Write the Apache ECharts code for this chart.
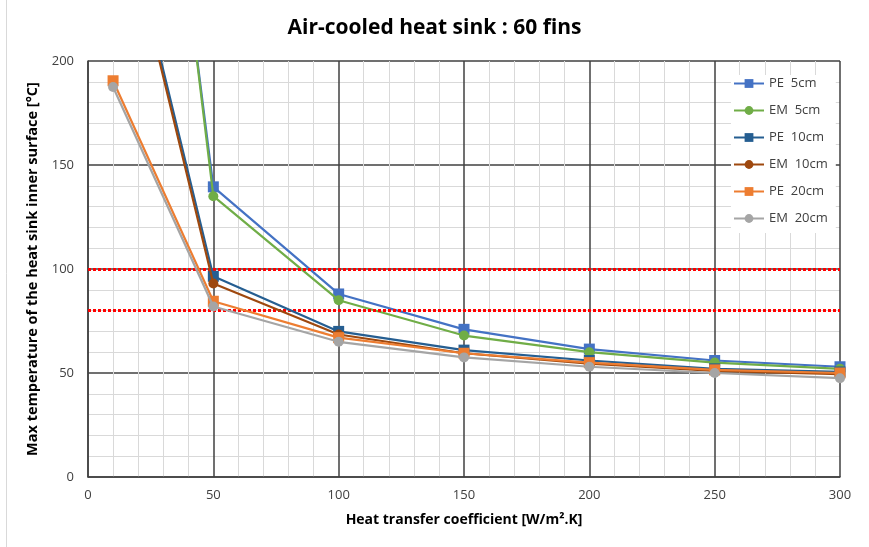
<!DOCTYPE html>
<html>
<head>
<meta charset="utf-8">
<title>Air-cooled heat sink : 60 fins</title>
<script src="https://cdn.jsdelivr.net/npm/echarts@6/dist/echarts.min.js"></script>
<style>
  html, body { margin: 0; padding: 0; background: #fff; }
  #main { width: 869px; height: 547px; }
</style>
</head>
<body>
<div id="main"></div>
<script>
// heat transfer coefficient [W/m2.K]
var hValues = [10, 50, 100, 150, 200, 250, 300];

// max temperature [°C] per case
var pe5 = [520, 139.5, 88, 71, 61.5, 56, 53];
var em5 = [535, 135, 85, 68, 60, 55, 52];
var pe10 = [295, 96.5, 70, 61, 56, 52, 50.5];
var em10 = [292, 93, 68.5, 59.5, 54.5, 51, 49.5];
var pe20 = [190.5, 84.5, 67, 59.5, 55, 51.5, 50];
var em20 = [187.5, 82, 65, 57.5, 53, 50, 47.5];

// temperature limits (red dotted)
var limits = [100, 80];

var seriesNames = ['PE  5cm', 'EM  5cm', 'PE  10cm', 'EM  10cm', 'PE  20cm', 'EM  20cm'];
var seriesData = [pe5, em5, pe10, em10, pe20, em20];
var colors = ['#4472C4', '#70AD47', '#255E91', '#9E480E', '#ED7D31', '#A5A5A5'];

function pairs(arr) {
    return hValues.map(function (h, i) { return [h, arr[i]]; });
}

var font = 'Open Sans';

var series = seriesNames.map(function (name, i) {
    return {
        name: name,
        type: 'line',
        data: pairs(seriesData[i]),
        symbol: i % 2 === 0 ? 'rect' : 'circle',
        symbolSize: i % 2 === 0 ? 11 : 10,
        showAllSymbol: true,
        lineStyle: { width: 2.2, color: colors[i] },
        itemStyle: { color: colors[i] },
        z: 3 + i
    };
});

// limit lines drawn on the first series
series[0].markLine = {
    silent: true,
    symbol: ['none', 'none'],
    label: { show: false },
    lineStyle: { color: '#FF0000', type: [3, 2], width: 3 },
    data: limits.map(function (v) { return { yAxis: v }; })
};

var chart = echarts.init(document.getElementById('main'));
chart.setOption({
    backgroundColor: '#fff',
    animation: false,
    color: colors,
    title: {
        text: 'Air-cooled heat sink : 60 fins',
        left: 'center',
        top: 13,
        textStyle: { fontFamily: font, fontSize: 21, fontWeight: 'bold', color: '#000' }
    },
    grid: { left: 88, right: 29, top: 61, bottom: 70 },
    legend: {
        orient: 'vertical',
        left: 731,
        top: 75,
        itemGap: 14,
        itemWidth: 30,
        itemHeight: 11,
        backgroundColor: '#fff',
        padding: [2, 8, 8, 2],
        textStyle: { fontFamily: font, fontSize: 13, color: '#404040' },
        data: seriesNames
    },
    xAxis: {
        type: 'value',
        min: 0,
        max: 300,
        interval: 50,
        name: 'Heat transfer coefficient [W/m².K]',
        nameLocation: 'middle',
        nameGap: 36,
        nameTextStyle: { fontFamily: font, fontSize: 14, fontWeight: 'bold', color: '#000' },
        axisLine: { show: true, lineStyle: { color: '#404040', width: 1.5 } },
        axisTick: { show: false },
        axisLabel: { fontFamily: font, fontSize: 13, color: '#404040', margin: 12 },
        splitLine: { show: true, lineStyle: { color: '#404040', width: 1.5 } },
        minorTick: { show: false, splitNumber: 5 },
        minorSplitLine: { show: true, lineStyle: { color: '#d9d9d9', width: 1 } }
    },
    yAxis: {
        type: 'value',
        min: 0,
        max: 200,
        interval: 50,
        name: 'Max temperature of the heat sink inner surface [°C]',
        nameLocation: 'middle',
        nameGap: 45,
        nameTextStyle: { fontFamily: font, fontSize: 14.5, fontWeight: 'bold', color: '#000' },
        axisLine: { show: true, lineStyle: { color: '#404040', width: 1.5 } },
        axisTick: { show: false },
        axisLabel: { fontFamily: font, fontSize: 13, color: '#404040', margin: 14 },
        splitLine: { show: true, lineStyle: { color: '#404040', width: 1.5 } },
        minorTick: { show: false, splitNumber: 5 },
        minorSplitLine: { show: true, lineStyle: { color: '#d9d9d9', width: 1 } }
    },
    graphic: [{
        type: 'line',
        shape: { x1: 6.5, y1: 0, x2: 6.5, y2: 547 },
        style: { stroke: '#d9d9d9', lineWidth: 1 }
    }],
    series: series
});
</script>
</body>
</html>
